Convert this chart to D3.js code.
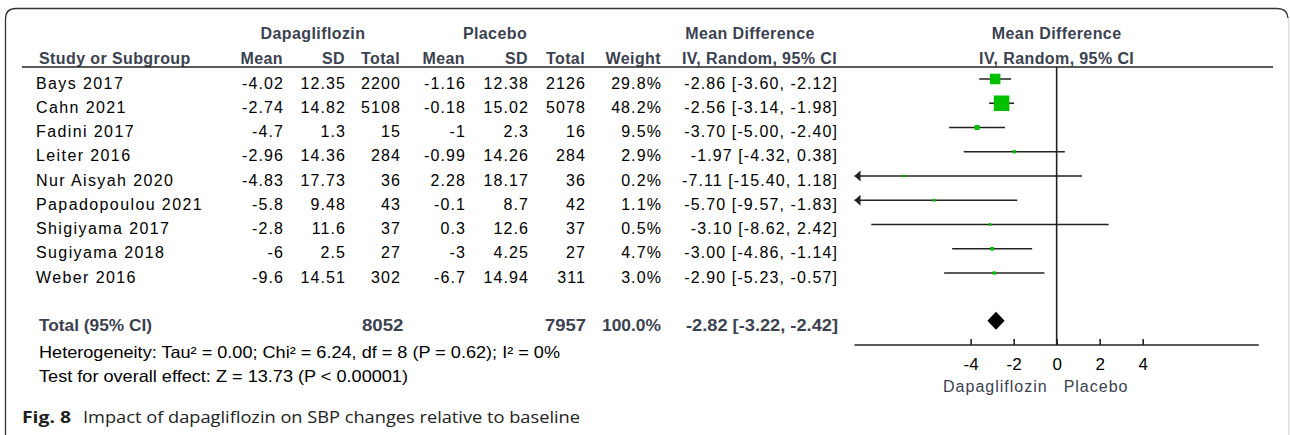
<!DOCTYPE html>
<html>
<head>
<meta charset="utf-8">
<script src="https://cdn.jsdelivr.net/npm/d3@7/dist/d3.min.js"></script>
<style>
  html, body { margin: 0; padding: 0; background: #fff; }
  svg { display: block; font-family: "Liberation Sans", Arial, sans-serif; }
</style>
</head>
<body>
<svg id="chart" width="1290" height="435"></svg>
<script>
// ---- Study-level data ----
const studies = ["Bays 2017", "Cahn 2021", "Fadini 2017", "Leiter 2016", "Nur Aisyah 2020",
                 "Papadopoulou 2021", "Shigiyama 2017", "Sugiyama 2018", "Weber 2016"];
const dapaMean = [-4.02, -2.74, -4.7, -2.96, -4.83, -5.8, -2.8, -6, -9.6];
const dapaSD   = [12.35, 14.82, 1.3, 14.36, 17.73, 9.48, 11.6, 2.5, 14.51];
const dapaN    = [2200, 5108, 15, 284, 36, 43, 37, 27, 302];
const placMean = [-1.16, -0.18, -1, -0.99, 2.28, -0.1, 0.3, -3, -6.7];
const placSD   = [12.38, 15.02, 2.3, 14.26, 18.17, 8.7, 12.6, 4.25, 14.94];
const placN    = [2126, 5078, 16, 284, 36, 42, 37, 27, 311];
const weights  = [29.8, 48.2, 9.5, 2.9, 0.2, 1.1, 0.5, 4.7, 3.0];
const md       = [-2.86, -2.56, -3.70, -1.97, -7.11, -5.70, -3.10, -3.00, -2.90];
const ciLow    = [-3.60, -3.14, -5.00, -4.32, -15.40, -9.57, -8.62, -4.86, -5.23];
const ciHigh   = [-2.12, -1.98, -2.40, 0.38, 1.18, -1.83, 2.42, -1.14, -0.57];

// ---- Pooled result ----
const totalDapaN = 8052;
const totalPlacN = 7957;
const totalWeight = 100.0;
const totalMD = -2.82;
const totalLow = -3.22;
const totalHigh = -2.42;

// ---- Axis ----
const tickValues = [-4, -2, 0, 2, 4];
const axisDomain = [-9.4, 9.4];
const favourLabels = ["Dapagliflozin", "Placebo"];

const heterogeneityText = "Heterogeneity: Tau\u00b2 = 0.00; Chi\u00b2 = 6.24, df = 8 (P = 0.62); I\u00b2 = 0%";
const overallText = "Test for overall effect: Z = 13.73 (P < 0.00001)";

const svg = d3.select("#chart");
const headColor = "#3b4150";
const lineColor = "#222";

// Frame with rounded top corners
svg.append("path")
  .attr("d", "M5.5,435 L5.5,19 Q5.5,8.5 16,8.5 L1277,8.5 Q1287.5,8.5 1288,18")
  .attr("fill", "none").attr("stroke", "#333").attr("stroke-width", 1.3);
svg.append("line")
  .attr("x1", 1288.8).attr("x2", 1288.8).attr("y1", 18).attr("y2", 435)
  .attr("stroke", "#d6d6d6").attr("stroke-width", 1.2);

// Forest-plot scales
const x = d3.scaleLinear().domain(axisDomain).range([854.5, 1258.8]);
const rowY = d3.scaleLinear().domain([0, 8]).range([79, 273]);
const boxSize = d3.scaleLinear().domain([0, 50]).range([2.5, 16]);
const x0 = x(0);

// ---- Header ----
const hdr = svg.append("g").attr("fill", headColor)
  .attr("font-weight", "bold").attr("font-size", 16).attr("letter-spacing", 0.4);
function htext(txt, xp, yp, anchor) {
  hdr.append("text").attr("x", xp).attr("y", yp).attr("text-anchor", anchor).text(txt);
}
htext("Dapagliflozin", 313, 39, "middle");
htext("Placebo", 495, 39, "middle");
htext("Mean Difference", 750, 39, "middle");
htext("Mean Difference", x0, 39, "middle");
const hy = 64;
htext("Study or Subgroup", 39, hy, "start");
htext("Mean", 283, hy, "end");
htext("SD", 345, hy, "end");
htext("Total", 400, hy, "end");
htext("Mean", 465, hy, "end");
htext("SD", 528, hy, "end");
htext("Total", 585, hy, "end");
htext("Weight", 661, hy, "end");
htext("IV, Random, 95% CI", 837, hy, "end");
htext("IV, Random, 95% CI", x0, hy, "middle");

svg.append("line").attr("x1", 22).attr("x2", 1273).attr("y1", 67).attr("y2", 67)
  .attr("stroke", lineColor).attr("stroke-width", 1.6);

// ---- Study table ----
const fmtCI = (m, l, h) => `${m.toFixed(2)} [${l.toFixed(2)}, ${h.toFixed(2)}]`;
const columns = [
  { x: 283, v: i => String(dapaMean[i]) },
  { x: 345, v: i => String(dapaSD[i]) },
  { x: 400, v: i => String(dapaN[i]) },
  { x: 465, v: i => String(placMean[i]) },
  { x: 528, v: i => String(placSD[i]) },
  { x: 585, v: i => String(placN[i]) },
  { x: 661, v: i => weights[i].toFixed(1) + "%" },
  { x: 837, v: i => fmtCI(md[i], ciLow[i], ciHigh[i]) }
];
const body = svg.append("g").attr("fill", "#000").attr("font-size", 16).attr("letter-spacing", 1.1);
studies.forEach((s, i) => {
  const ty = rowY(i) + 9.5;
  body.append("text").attr("x", 36).attr("y", ty).attr("letter-spacing", 1.4).text(s);
  columns.forEach(c => {
    body.append("text").attr("x", c.x + 1).attr("y", ty).attr("text-anchor", "end").text(c.v(i));
  });
});

// ---- Total row ----
const tot = svg.append("g").attr("fill", headColor).attr("font-weight", "bold").attr("font-size", 17);
const totY = 331;
function ttext(txt, xl, w) {
  tot.append("text").attr("x", xl).attr("y", totY).attr("textLength", w)
    .attr("lengthAdjust", "spacingAndGlyphs").text(txt);
}
ttext("Total (95% CI)", 39, 113);
ttext(String(totalDapaN), 362, 41.5);
ttext(String(totalPlacN), 545, 41);
ttext(totalWeight.toFixed(1) + "%", 602, 59);
ttext(fmtCI(totalMD, totalLow, totalHigh), 686, 152);

svg.append("text").attr("x", 39).attr("y", 357.5).attr("font-size", 16.5)
  .attr("textLength", 521).attr("lengthAdjust", "spacingAndGlyphs").text(heterogeneityText);
svg.append("text").attr("x", 39).attr("y", 382).attr("font-size", 16.5)
  .attr("textLength", 369).attr("lengthAdjust", "spacingAndGlyphs").text(overallText);

// ---- Caption ----
const cap = svg.append("text").attr("x", 22).attr("y", 422.5)
  .style("font-family", "'Open Sans', 'Noto Sans', sans-serif").attr("font-size", 16.5).attr("fill", "#222");
cap.append("tspan").attr("font-weight", "bold").attr("textLength", 49)
  .attr("lengthAdjust", "spacingAndGlyphs").text("Fig. 8");
cap.append("tspan").attr("x", 83).attr("textLength", 497)
  .attr("lengthAdjust", "spacingAndGlyphs").text("Impact of dapagliflozin on SBP changes relative to baseline");

// ---- Forest plot ----
const plot = svg.append("g");

// line of no effect
plot.append("line").attr("x1", x0).attr("x2", x0).attr("y1", 67).attr("y2", 345)
  .attr("stroke", lineColor).attr("stroke-width", 1.6);

// confidence intervals, clipped to the axis range with arrowheads where they run off
studies.forEach((s, i) => {
  const y = rowY(i);
  const lo = Math.max(ciLow[i], axisDomain[0]);
  const hi = Math.min(ciHigh[i], axisDomain[1]);
  plot.append("line").attr("x1", x(lo)).attr("x2", x(hi)).attr("y1", y).attr("y2", y)
    .attr("stroke", lineColor).attr("stroke-width", 1.6);
  if (ciLow[i] < axisDomain[0]) {
    const xt = x(axisDomain[0]);
    plot.append("path")
      .attr("d", `M${xt},${y} L${xt + 6},${y - 5.5} L${xt + 6},${y + 5.5} Z`)
      .attr("fill", lineColor);
  }
  if (ciHigh[i] > axisDomain[1]) {
    const xt = x(axisDomain[1]);
    plot.append("path")
      .attr("d", `M${xt},${y} L${xt - 6},${y - 5.5} L${xt - 6},${y + 5.5} Z`)
      .attr("fill", lineColor);
  }
});

// weighted squares
plot.selectAll("rect.box").data(studies).enter().append("rect")
  .attr("class", "box")
  .attr("x", (d, i) => x(md[i]) - boxSize(weights[i]) / 2)
  .attr("y", (d, i) => rowY(i) - boxSize(weights[i]) / 2)
  .attr("width", (d, i) => boxSize(weights[i]))
  .attr("height", (d, i) => boxSize(weights[i]))
  .attr("fill", "#00c000");

// pooled diamond
const dy = 320.7, dh = 9;
plot.append("path")
  .attr("d", `M${x(totalLow)},${dy} L${x(totalMD)},${dy - dh} L${x(totalHigh)},${dy} L${x(totalMD)},${dy + dh} Z`)
  .attr("fill", "#000");

// x axis
const axisY = 345;
plot.append("line").attr("x1", x(axisDomain[0])).attr("x2", x(axisDomain[1]))
  .attr("y1", axisY).attr("y2", axisY).attr("stroke", lineColor).attr("stroke-width", 1.6);
const axis = d3.axisTop(x).tickValues(tickValues).tickSize(6).tickFormat(d3.format("d"));
const ag = plot.append("g").attr("transform", `translate(0,${axisY})`).call(axis);
ag.select(".domain").remove();
ag.selectAll(".tick line").attr("stroke", lineColor).attr("stroke-width", 1.6);
ag.selectAll(".tick text")
  .attr("y", 24.5).attr("dy", 0)
  .style("font-family", "'Liberation Sans', Arial, sans-serif")
  .style("font-size", "17px").attr("fill", "#000")
  .text(d => d < 0 ? "-" + Math.abs(d) : String(d));

// favours labels
const fav = plot.append("g").attr("fill", headColor).attr("font-size", 16).attr("letter-spacing", 1);
fav.append("text").attr("x", x0 - 9).attr("y", 392).attr("text-anchor", "end").text(favourLabels[0]);
fav.append("text").attr("x", x0 + 7).attr("y", 392).attr("text-anchor", "start").text(favourLabels[1]);
</script>
</body>
</html>
